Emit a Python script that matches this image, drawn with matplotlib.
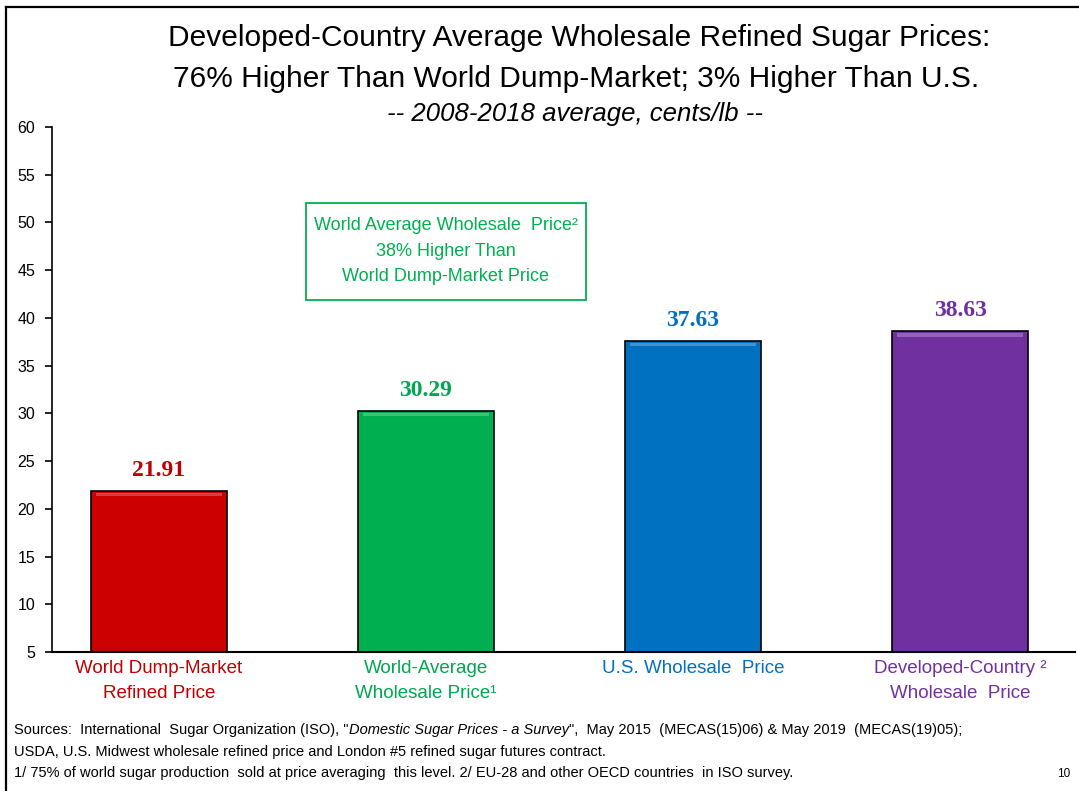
import numpy as np
import matplotlib.pyplot as plt
from matplotlib.patches import Rectangle

# data
categories = ["World Dump-Market\nRefined Price", "World-Average\nWholesale Price\u00b9",
              "U.S. Wholesale  Price", "Developed-Country \u00b2\nWholesale  Price"]
prices = [21.91, 30.29, 37.63, 38.63]
bar_colors = ["#CC0000", "#00B050", "#0070C0", "#7030A0"]
label_colors = ["#C00000", "#00A650", "#0070C0", "#7030A0"]
yticks = list(range(5, 61, 5))

plt.rcParams['font.family'] = ['Liberation Sans', 'DejaVu Sans']

fig = plt.figure(figsize=(10.79, 7.91), dpi=100)
ax = fig.add_axes([0.0482, 0.1757, 0.9481, 0.6637])

x = np.arange(len(prices))
base = 5
ax.bar(x, np.array(prices) - base, bottom=base, width=0.51, color=bar_colors,
       edgecolor="black", linewidth=1.2, zorder=2)
# bevel highlight along the top of each bar
ax.bar(x, [0.35] * len(prices), bottom=np.array(prices) - 0.6, width=0.47,
       color="white", alpha=0.25, linewidth=0, zorder=3)

for xi, p, c in zip(x, prices, label_colors):
    ax.text(xi, p + 2.1, f"{p:.2f}", ha="center", va="center", color=c,
            fontsize=17, fontweight="bold", family="Liberation Serif")

ax.set_ylim(5, 60)
ax.set_xlim(-0.4, 3.43)
ax.set_yticks(yticks)
ax.tick_params(axis="y", labelsize=11.5, length=5, width=1.2, direction="out", pad=7)
ax.set_xticks(x)
ax.set_xticklabels(categories, fontsize=13.5, linespacing=1.6)
ax.tick_params(axis="x", length=0, pad=6)
for t, c in zip(ax.get_xticklabels(), label_colors):
    t.set_color(c)
ax.spines["top"].set_visible(False)
ax.spines["right"].set_visible(False)
ax.spines["left"].set_linewidth(1.2)
ax.spines["bottom"].set_linewidth(1.5)

# annotation box
ax.add_patch(Rectangle((0.55, 41.9), 1.05, 10.15, fill=False, ec="#00B050", lw=1.3, zorder=4))
ax.text(1.075, 47.0, "World Average Wholesale  Price\u00b2\n38% Higher Than\nWorld Dump-Market Price",
        ha="center", va="center", color="#00B050", fontsize=13, linespacing=1.68)

# titles
fig.text(0.537, 0.952, "Developed-Country Average Wholesale Refined Sugar Prices:",
         ha="center", va="center", fontsize=21.5)
fig.text(0.534, 0.900, "76% Higher Than World Dump-Market; 3% Higher Than U.S.",
         ha="center", va="center", fontsize=21.5)
fig.text(0.533, 0.856, "-- 2008-2018 average, cents/lb --",
         ha="center", va="center", fontsize=18.5, style="italic")

# footnotes
fs = 10.5
t1 = fig.text(0.013, 0.068, 'Sources:  International  Sugar Organization (ISO), "', fontsize=fs, va="bottom")
ann2 = ax.annotate("Domestic Sugar Prices - a Survey", xy=(1, 0), xycoords=t1,
                   va="bottom", ha="left", fontsize=fs, style="italic", annotation_clip=False)
ax.annotate('",  May 2015  (MECAS(15)06) & May 2019  (MECAS(19)05);', xy=(1, 0), xycoords=ann2,
            va="bottom", ha="left", fontsize=fs, annotation_clip=False)
fig.text(0.013, 0.041, "USDA, U.S. Midwest wholesale refined price and London #5 refined sugar futures contract.",
         fontsize=fs, va="bottom")
fig.text(0.013, 0.014, "1/ 75% of world sugar production  sold at price averaging  this level. 2/ EU-28 and other OECD countries  in ISO survey.",
         fontsize=fs, va="bottom")
fig.text(0.992, 0.022, "10", fontsize=8.5, ha="right", va="center")

# slide frame (top and left edges)
fig.add_artist(plt.Line2D([0.0056, 1.0], [0.991, 0.991], color="black", lw=1.6))
fig.add_artist(plt.Line2D([0.0056, 0.0056], [0.0, 0.991], color="black", lw=1.6))

fig.savefig("out.png", dpi=100)
